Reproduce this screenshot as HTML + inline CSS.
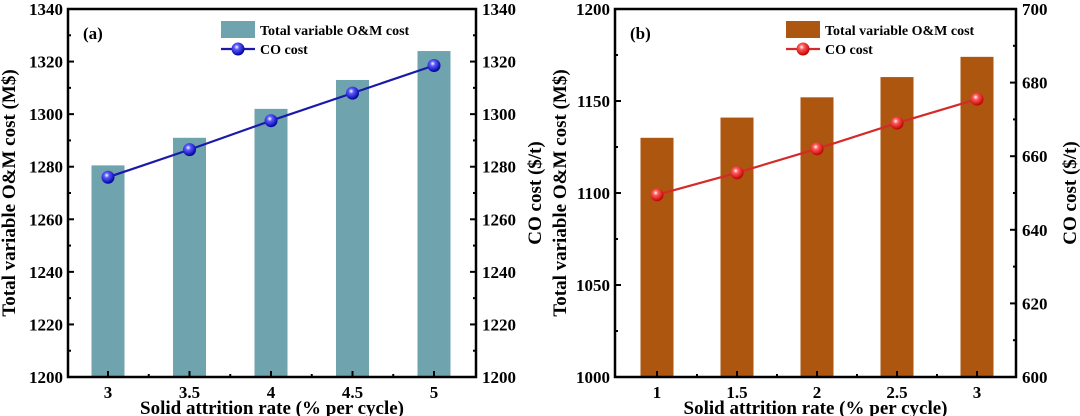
<!DOCTYPE html>
<html><head><meta charset="utf-8"><style>
body{margin:0;background:#fff}
svg{display:block}
text{font-family:"Liberation Serif","Times New Roman",serif;font-weight:bold}
</style></head><body>
<svg id="chart" width="1080" height="416" xmlns="http://www.w3.org/2000/svg">
<defs>
<radialGradient id="gb" cx="0.4" cy="0.35" r="0.65"><stop offset="0" stop-color="#fff"/><stop offset="0.3" stop-color="#5a5aff"/><stop offset="1" stop-color="#0000a0"/></radialGradient>
<radialGradient id="gr" cx="0.4" cy="0.35" r="0.65"><stop offset="0" stop-color="#fff"/><stop offset="0.3" stop-color="#ff5a5a"/><stop offset="1" stop-color="#c00000"/></radialGradient>
</defs>
</svg>
<script>
const catsA=["3","3.5","4","4.5","5"];
const barsA=[1280.5,1291,1302,1313,1324];
const lineA=[1276,1286.5,1297.5,1308,1318.5];
const ticksLA=[1200,1220,1240,1260,1280,1300,1320,1340];
const ticksRA=[1200,1220,1240,1260,1280,1300,1320,1340];
const catsB=["1","1.5","2","2.5","3"];
const barsB=[1130,1141,1152,1163,1174];
const lineB=[649.5,655.5,662,669,675.5];
const ticksLB=[1000,1050,1100,1150,1200];
const ticksRB=[600,620,640,660,680,700];
const svg=document.getElementById('chart');
const NS='http://www.w3.org/2000/svg';
const FF='"Liberation Serif", serif';
function mk(t,a,txt){const e=document.createElementNS(NS,t);for(const k in a)e.setAttribute(k,a[k]);if(txt!==undefined){e.textContent=txt;e.setAttribute('font-family',FF);e.setAttribute('font-weight','bold');}svg.appendChild(e);return e;}
function panel(o){
 const x0=o.x0,x1=o.x1,top=9,bot=377;
 const yL=v=>bot-(v-o.lmin)/(o.lmax-o.lmin)*(bot-top);
 const yR=v=>bot-(v-o.rmin)/(o.rmax-o.rmin)*(bot-top);
 const n=o.cats.length;
 const xc=i=>o.c0+i*(o.c1-o.c0)/(n-1);
 o.bars.forEach((v,i)=>{const r=mk('rect',{x:xc(i)-16.5,y:yL(v),width:33,height:bot-yL(v),fill:o.bc});
  
  });
 const pts=o.line.map((v,i)=>xc(i)+','+yR(v)).join(' ');
 const pl=mk('polyline',{points:pts,fill:'none',stroke:o.lc,'stroke-width':2.2});
 
 
 o.line.forEach((v,i)=>{const c=mk('circle',{cx:xc(i),cy:yR(v),r:6.5,fill:'url(#'+o.grad+')'});
  
  });
 const fr=mk('rect',{x:x0,y:top,width:x1-x0,height:bot-top,fill:'none',stroke:'#000','stroke-width':2.5});
 
 
 o.ticksL.forEach((v,i)=>{const y=yL(v);mk('line',{x1:x0,x2:x0+6,y1:y,y2:y,stroke:'#000','stroke-width':2});
  if(i<o.ticksL.length-1){const ym=(y+yL(o.ticksL[i+1]))/2;mk('line',{x1:x0,x2:x0+3,y1:ym,y2:ym,stroke:'#000','stroke-width':2});}
  const t=mk('text',{x:x0-5,y:y+6,'text-anchor':'end','font-size':17},v);
  
  });
 o.ticksR.forEach((v,i)=>{const y=yR(v);mk('line',{x1:x1-6,x2:x1,y1:y,y2:y,stroke:'#000','stroke-width':2});
  if(i<o.ticksR.length-1){const ym=(y+yR(o.ticksR[i+1]))/2;mk('line',{x1:x1-3,x2:x1,y1:ym,y2:ym,stroke:'#000','stroke-width':2});}
  const t=mk('text',{x:x1+6,y:y+6,'font-size':17},v);
  
  });
 o.cats.forEach((c,i)=>{const x=xc(i);mk('line',{x1:x,x2:x,y1:bot,y2:bot-6,stroke:'#000','stroke-width':2});
  if(i<n-1){const xm=(x+xc(i+1))/2;mk('line',{x1:xm,x2:xm,y1:bot,y2:bot-3,stroke:'#000','stroke-width':2});}
  const t=mk('text',{x:x,y:398,'text-anchor':'middle','font-size':17},c);
  
  });
 const xt=mk('text',{x:(x0+x1)/2,y:414,'text-anchor':'middle','font-size':19},'Solid attrition rate (% per cycle)');
 
 
 const yt=mk('text',{transform:'translate('+(o.ylx)+','+((top+bot)/2)+') rotate(-90)','text-anchor':'middle','font-size':19},'Total variable O&M cost (M$)');
 
 
 const yr=mk('text',{transform:'translate('+(o.yrx)+','+((top+bot)/2)+') rotate(-90)','text-anchor':'middle','font-size':19},'CO cost ($/t)');
 
 
 const pl2=mk('text',{x:x0+15,y:39,'font-size':17},o.label);
 
 
 const lr=mk('rect',{x:o.lgx,y:21,width:34,height:17,fill:o.bc});
 
 
 const lt=mk('text',{x:o.lgx+39,y:35,'font-size':14},'Total variable O&M cost');
 
 
 mk('line',{x1:o.lgx,x2:o.lgx+34,y1:49,y2:49,stroke:o.lc,'stroke-width':2.2});
 const lc=mk('circle',{cx:o.lgx+17,cy:49,r:6.5,fill:'url(#'+o.grad+')'});
 
 
 const lt2=mk('text',{x:o.lgx+39,y:54,'font-size':14},'CO cost');
 
 
}
panel({id:'a',label:'(a)',x0:68,x1:476,c0:108,c1:434,cats:catsA,bars:barsA,line:lineA,lmin:1200,lmax:1340,rmin:1200,rmax:1340,ticksL:ticksLA,ticksR:ticksRA,bc:'#6fa3ad',lc:'#1a1aaa',grad:'gb',ylx:15,yrx:541,lgx:221});
panel({id:'b',label:'(b)',x0:615,x1:1016,c0:657,c1:977,cats:catsB,bars:barsB,line:lineB,lmin:1000,lmax:1200,rmin:600,rmax:700,ticksL:ticksLB,ticksR:ticksRB,bc:'#ac560f',lc:'#d42a2a',grad:'gr',ylx:566,yrx:1076,lgx:786});
</script>
</body></html>
